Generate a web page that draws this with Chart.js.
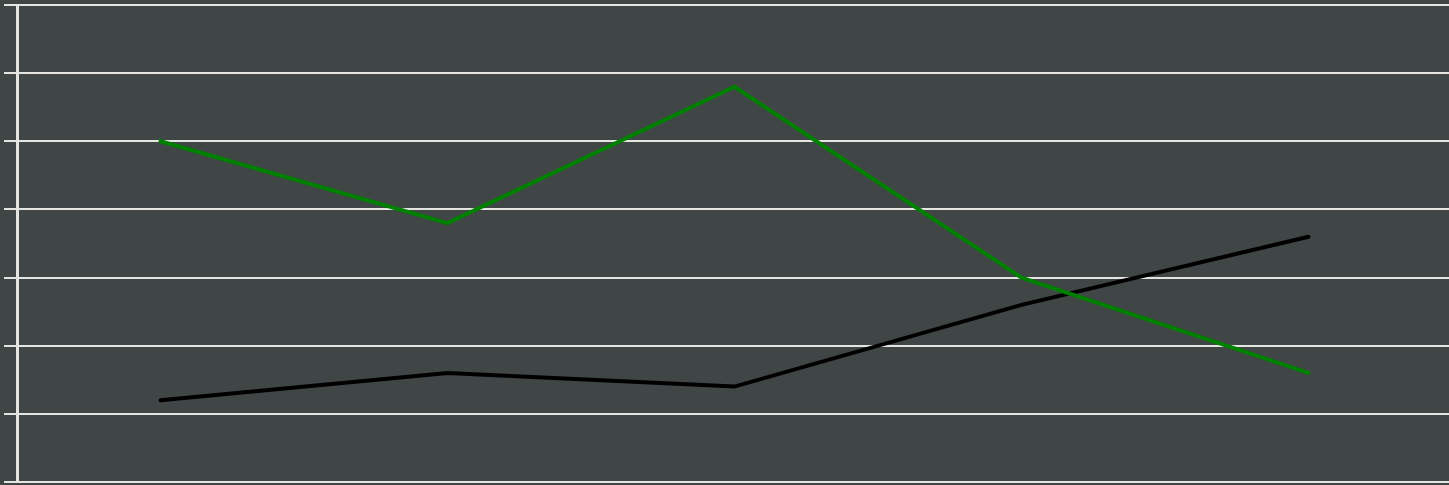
<!DOCTYPE html>
<html>
<head>
<meta charset="utf-8">
<script src="https://cdn.jsdelivr.net/npm/chart.js@4"></script>
<style>
  html, body { margin: 0; padding: 0; background: #404646; overflow: hidden; }
  #wrap { width: 1453px; height: 485px; position: relative; }
</style>
</head>
<body>
<div id="wrap"><canvas id="chart"></canvas></div>
<script>
const labels = ['1', '2', '3', '4', '5'];
const greenValues = [5.0, 3.8, 5.8, 3.0, 1.6];
const blackValues = [1.2, 1.6, 1.4, 2.6, 3.6];
const yMin = 0;
const yMax = 7;

const bgPlugin = {
  id: 'bg',
  beforeDraw(chart) {
    const ctx = chart.ctx;
    ctx.save();
    ctx.fillStyle = '#404646';
    ctx.fillRect(0, 0, chart.width, chart.height);
    ctx.restore();
  }
};

new Chart(document.getElementById('chart').getContext('2d'), {
  type: 'line',
  data: {
    labels,
    datasets: [
      {
        label: 'green',
        data: greenValues,
        borderColor: '#008000',
        borderWidth: 4,
        borderCapStyle: 'round',
        pointRadius: 0,
        tension: 0,
        fill: false
      },
      {
        label: 'black',
        data: blackValues,
        borderColor: '#000000',
        borderWidth: 4,
        borderCapStyle: 'round',
        pointRadius: 0,
        tension: 0,
        fill: false
      }
    ]
  },
  options: {
    responsive: true,
    maintainAspectRatio: false,
    animation: false,
    layout: { padding: { left: 4, top: 5, right: 1, bottom: 3 } },
    plugins: { legend: { display: false }, tooltip: { enabled: false } },
    scales: {
      x: {
        display: false,
        offset: true
      },
      y: {
        min: yMin,
        max: yMax,
        ticks: { display: false, stepSize: 1 },
        grid: { color: '#e4e4e0', lineWidth: 2, tickLength: 13 },
        border: { color: '#e4e4e0', width: 3 }
      }
    }
  },
  plugins: [bgPlugin]
});
</script>
</body>
</html>
